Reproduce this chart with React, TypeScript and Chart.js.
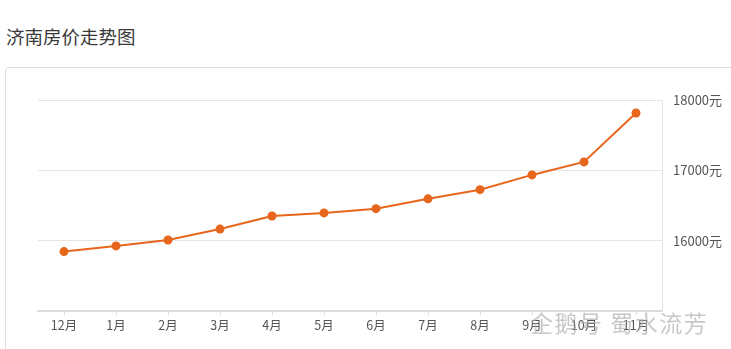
import React, { useEffect, useRef } from "react";
import { Chart, registerables } from "chart.js";

Chart.register(...registerables);

const TITLE = "济南房价走势图";
const months = ["12月", "1月", "2月", "3月", "4月", "5月", "6月", "7月", "8月", "9月", "10月", "11月"];
const prices = [15845, 15925, 16010, 16165, 16350, 16395, 16455, 16595, 16725, 16935, 17120, 17815];
const yMin = 15000;
const yMax = 18000;
const yStep = 1000;
const unit = "元";
const WATERMARK = "企鹅号 蜀水流芳";

const FONT = "'Noto Sans CJK SC', 'Noto Sans', sans-serif";
const ORANGE = "#e8661c";

export default function App() {
  const ref = useRef<HTMLCanvasElement | null>(null);

  useEffect(() => {
    document.body.style.margin = "0";
    document.body.style.overflow = "hidden";
    const canvas = ref.current;
    if (!canvas) return;
    const chart = new Chart(canvas, {
      type: "line",
      data: {
        labels: months,
        datasets: [
          {
            data: prices,
            borderColor: ORANGE,
            backgroundColor: ORANGE,
            borderWidth: 2,
            pointRadius: 4.5,
            pointBackgroundColor: ORANGE,
            pointBorderWidth: 0,
            tension: 0,
            fill: false,
          },
        ],
      },
      options: {
        animation: false,
        responsive: false,
        maintainAspectRatio: false,
        layout: { padding: { left: 38, top: 100, right: 0, bottom: 0 } },
        plugins: {
          legend: { display: false },
          tooltip: { enabled: false },
          title: { display: false },
        },
        scales: {
          x: {
            type: "category",
            offset: true,
            afterFit: (s: any) => {
              s.height = 38;
            },
            grid: {
              offset: false,
              drawOnChartArea: false,
              drawTicks: true,
              tickLength: 4,
              color: "#dddddd",
            },
            border: { display: true, color: "#dddddd", width: 2 },
            ticks: {
              color: "#555555",
              font: { family: FONT, size: 12.5 },
              padding: 3,
              maxRotation: 0,
              autoSkip: false,
            },
          },
          y: {
            position: "right",
            min: yMin,
            max: yMax,
            afterFit: (s: any) => {
              s.width = 69;
            },
            grid: {
              drawTicks: false,
              color: (ctx: any) => (ctx.tick && ctx.tick.value === yMin ? "rgba(0,0,0,0)" : "#e6e6e6"),
              lineWidth: 1,
            },
            border: { display: true, color: "#e3e3e3", width: 1 },
            ticks: {
              stepSize: yStep,
              color: "#555555",
              font: { family: FONT, size: 13 },
              padding: 11,
              callback: (v: any) => (Number(v) === yMin ? "" : `${v}${unit}`),
            },
          },
        },
      },
    });
    return () => chart.destroy();
  }, []);

  return (
    <div
      style={{
        position: "relative",
        width: 731,
        height: 349,
        overflow: "hidden",
        background: "#ffffff",
        fontFamily: FONT,
      }}
    >
      <div
        style={{
          position: "absolute",
          left: 6,
          top: 23,
          fontSize: 18.5,
          color: "#3a3a3a",
          lineHeight: "26px",
          whiteSpace: "nowrap",
        }}
      >
        {TITLE}
      </div>
      <div
        style={{
          position: "absolute",
          left: 5,
          top: 67,
          width: 800,
          height: 400,
          border: "1px solid #dddddd",
          borderRadius: 4,
          boxSizing: "border-box",
        }}
      />
      <canvas
        ref={ref}
        width={731}
        height={349}
        style={{ position: "absolute", left: 0, top: 0, width: 731, height: 349 }}
      />
      <div
        style={{
          position: "absolute",
          left: 530,
          top: 307,
          fontSize: 23,
          letterSpacing: 1.5,
          lineHeight: "30px",
          color: "rgba(175,175,175,0.7)",
          whiteSpace: "nowrap",
          pointerEvents: "none",
        }}
      >
        {WATERMARK}
      </div>
    </div>
  );
}
